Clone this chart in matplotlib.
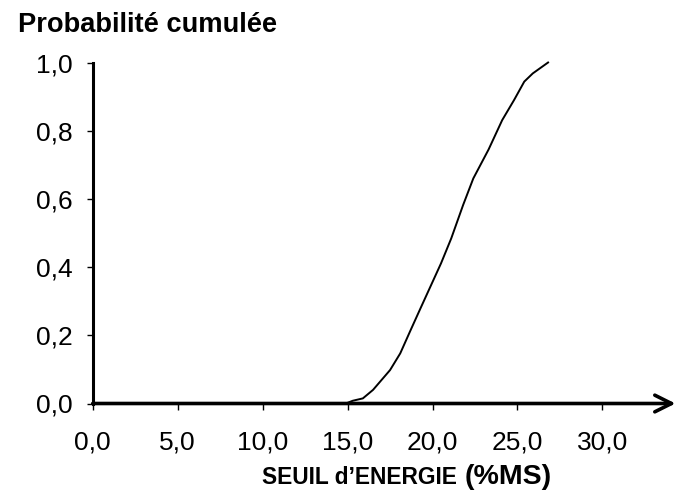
import matplotlib

matplotlib.use("Agg")
import matplotlib.pyplot as plt

plt.rcParams["font.family"] = ["Liberation Sans", "DejaVu Sans"]

# cumulative probability vs energy threshold (%MS)
seuil = [14.9, 15.3, 15.9, 16.5, 17.5, 18.1, 18.7, 19.3, 20.5, 21.1,
         21.8, 22.4, 23.3, 24.1, 24.8, 25.4, 25.9, 26.8]
proba = [0.0, 0.008, 0.015, 0.040, 0.098, 0.147, 0.214, 0.280, 0.411,
         0.484, 0.582, 0.660, 0.745, 0.831, 0.890, 0.944, 0.968, 1.0]

x_ticks = [0, 5, 10, 15, 20, 25, 30]
y_ticks = [0.0, 0.2, 0.4, 0.6, 0.8, 1.0]
x_ticklabels = ["0,0", "5,0", "10,0", "15,0", "20,0", "25,0", "30,0"]
y_ticklabels = ["0,0", "0,2", "0,4", "0,6", "0,8", "1,0"]

W, H = 678, 495
fig = plt.figure(figsize=(W / 100, H / 100), dpi=100)
ax = fig.add_axes([92.7 / W, 1 - 403.5 / H, (675.5 - 92.7) / W, (403.5 - 62.5) / H])

ax.plot(seuil, proba, color="black", lw=1.4, clip_on=False)

ax.set_xlim(0, 34.3)
ax.set_ylim(0, 1.0)
ax.set_xticks(x_ticks)
ax.set_xticklabels(x_ticklabels)
ax.set_yticks(y_ticks)
ax.set_yticklabels(y_ticklabels)
ax.tick_params(axis="both", labelsize=19, length=4.5, width=1.0, direction="out")
ax.tick_params(axis="x", pad=15)
ax.tick_params(axis="y", pad=10)

for side in ("top", "right", "bottom"):
    ax.spines[side].set_visible(False)
ax.spines["left"].set_linewidth(2.2)

# x axis drawn as an arrow
ax.annotate("", xy=(1.0, 0), xytext=(0, 0), xycoords="axes fraction",
            arrowprops=dict(arrowstyle="->", lw=2.6, color="black",
                            mutation_scale=30, shrinkA=0, shrinkB=0))

fig.text(18 / W, 1 - 32 / H, "Probabilité cumulée", fontsize=19.6,
         fontweight="bold", va="baseline", ha="left")
fig.text(262 / W, 1 - 484 / H, "SEUIL d’ENERGIE", fontsize=16.4,
         fontweight="bold", va="baseline", ha="left")
fig.text(465 / W, 1 - 484 / H, "(%MS)", fontsize=20.5,
         fontweight="bold", va="baseline", ha="left")

fig.savefig("out.png", dpi=100)
